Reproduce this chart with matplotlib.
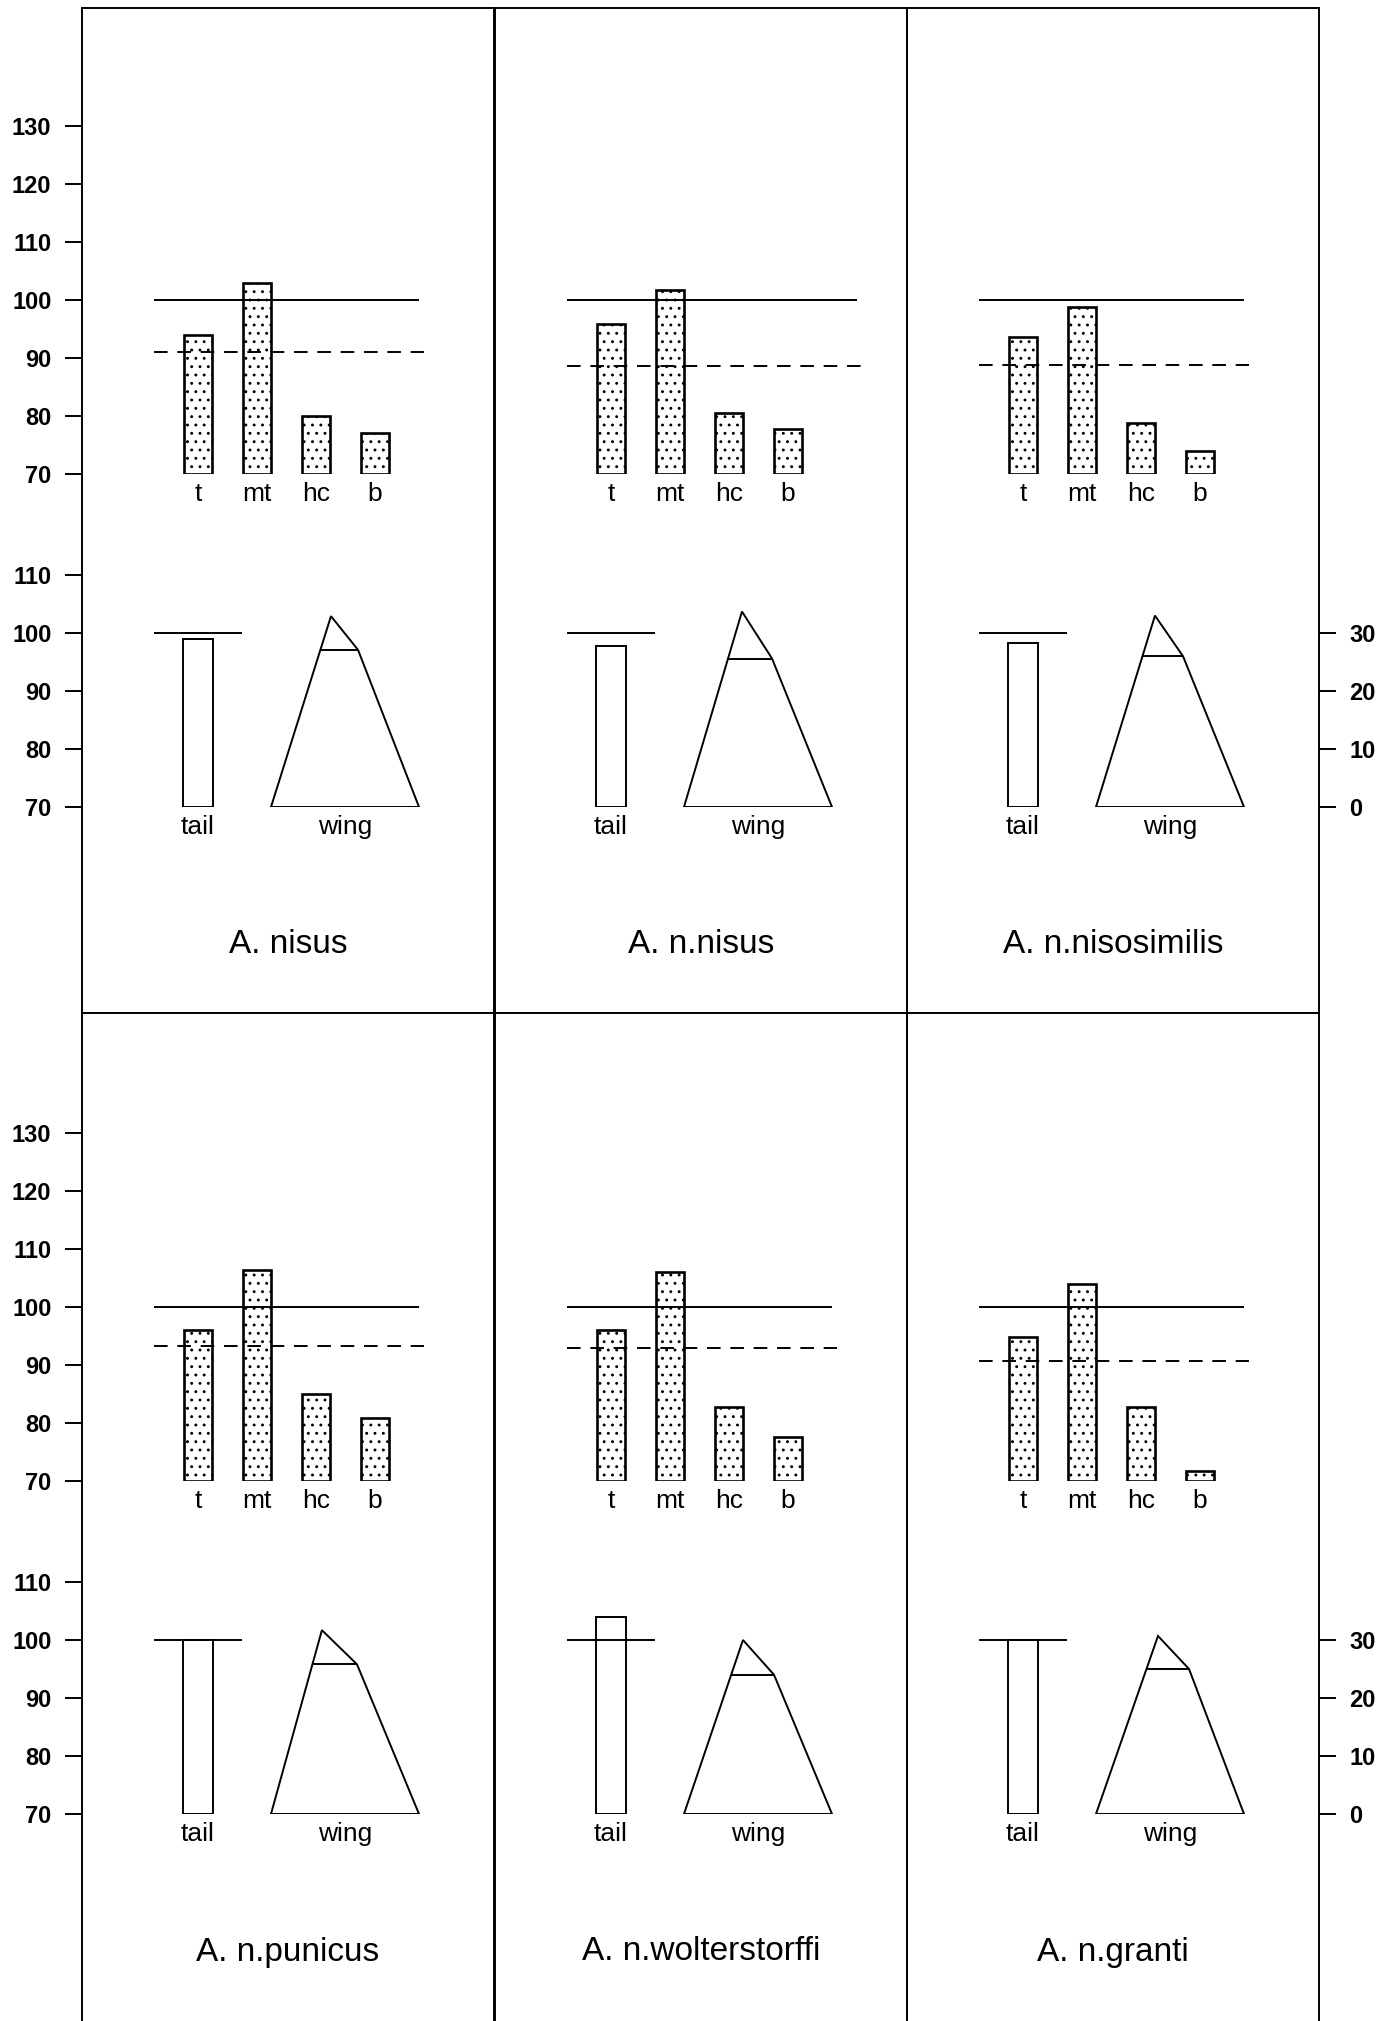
import numpy as np
import matplotlib
matplotlib.use("Agg")
import matplotlib.pyplot as plt
from matplotlib.patches import Polygon

plt.rcParams['font.family'] = ['Liberation Sans', 'DejaVu Sans']
plt.rcParams['hatch.linewidth'] = 0.9

# ---- data ----
species = ["A. nisus", "A. n.nisus", "A. n.nisosimilis",
           "A. n.punicus", "A. n.wolterstorffi", "A. n.granti"]
measures = ["t", "mt", "hc", "b"]
t_vals = [94.0, 95.9, 93.7, 96.1, 96.0, 94.9]
mt_vals = [103.0, 101.7, 98.8, 106.3, 106.0, 104.0]
hc_vals = [80.0, 80.6, 78.8, 85.0, 82.8, 82.8]
b_vals = [77.0, 77.7, 73.9, 80.9, 77.6, 71.7]
mean_level = [91.0, 88.7, 88.8, 93.2, 93.0, 90.7]   # dashed line
ref_level = 100
tail_vals = [99.0, 97.8, 98.2, 100.0, 104.0, 100.0]
wing_tip = [32.9, 33.7, 33.0, 31.7, 30.0, 30.7]     # right scale
wing_kink = [27.1, 25.6, 26.0, 25.8, 24.0, 25.0]    # right scale

upper_ticks = [70, 80, 90, 100, 110, 120, 130]
lower_ticks = [70, 80, 90, 100, 110]
right_ticks = [0, 10, 20, 30]

# ---- layout (pixels) ----
W, H = 1391, 2021
col_left = [82, 495, 907]
panel_w = 412
row_shift = 1007
frame_top = [8, 1013]
frame_h = [1005, 1060]
UNIT = 5.8            # px per value unit
upper_base = 474      # y of value 70 in upper plots, row 0
lower_base = 807
title_y = 945
xlim = (-116 / 59, (panel_w - 116) / 59)
ref_end = [3.75, 4.17, 3.75, 3.75, 3.75, 3.75]
tip_x = [2.254, 2.22, 2.237, 2.10, 2.237, 2.288]
kink_x = [2.712, 2.729, 2.712, 2.695, 2.763, 2.814]
wing_left, wing_right = 1.237, 3.746


def px_box(left, top, width, height):
    return [left / W, 1 - (top + height) / H, width / W, height / H]


def bold_ticks(a, side):
    a.tick_params(axis='y', direction='out', length=12, width=1.4,
                  pad=10, labelsize=17)
    for lab in a.get_yticklabels():
        lab.set_fontweight('bold')


fig = plt.figure(figsize=(W / 100, H / 100), dpi=100)

for i, name in enumerate(species):
    r, c = divmod(i, 3)
    cl = col_left[c]

    # panel frame
    fr = fig.add_axes(px_box(cl, frame_top[r], panel_w, frame_h[r]))
    fr.set_xticks([])
    fr.set_yticks([])
    for s in fr.spines.values():
        s.set_linewidth(1.4)
    if r == 1:
        fr.spines['bottom'].set_visible(False)

    # upper bar plot
    top = upper_base + r * row_shift - 60 * UNIT
    ax = fig.add_axes(px_box(cl, top, panel_w, 60 * UNIT))
    ax.patch.set_alpha(0)
    vals = [t_vals[i], mt_vals[i], hc_vals[i], b_vals[i]]
    x = np.arange(len(measures))
    ax.bar(x, np.array(vals) - 70, bottom=70, width=0.475,
           facecolor='white', edgecolor='black', linewidth=1.9, hatch='..')
    ax.hlines(ref_level, -0.74, ref_end[i], color='black', lw=1.4)
    ax.hlines(mean_level[i], -0.74, ref_end[i] + 0.08, color='black', lw=1.4,
              linestyle=(0, (7, 5)))
    ax.set_xlim(*xlim)
    ax.set_ylim(70, 130)
    ax.set_xticks(x, measures, fontsize=19)
    ax.tick_params(axis='x', length=0, pad=6)
    for s in ax.spines.values():
        s.set_visible(False)
    if c == 0:
        ax.set_yticks(upper_ticks)
        bold_ticks(ax, 'left')
    else:
        ax.set_yticks([])

    # lower tail / wing plot
    top = lower_base + r * row_shift - 40 * UNIT
    axl = fig.add_axes(px_box(cl, top, panel_w, 40 * UNIT))
    axl.patch.set_alpha(0)
    axl.bar([0], [tail_vals[i] - 70], bottom=70, width=0.5,
            facecolor='white', edgecolor='black', linewidth=1.4)
    axl.hlines(ref_level, -0.74, 0.75, color='black', lw=1.4)
    axl.set_xlim(*xlim)
    axl.set_ylim(70, 110)
    axl.set_xticks([0, (wing_left + wing_right) / 2], ["tail", "wing"],
                   fontsize=19)
    axl.tick_params(axis='x', length=0, pad=6)
    for s in axl.spines.values():
        s.set_visible(False)
    if c == 0:
        axl.set_yticks(lower_ticks)
        bold_ticks(axl, 'left')
    else:
        axl.set_yticks([])

    # wing shape on the right-hand 0-30 scale
    axw = axl.twinx()
    axw.set_ylim(0, 40)
    for s in axw.spines.values():
        s.set_visible(False)
    wing = Polygon([(wing_left, 0), (tip_x[i], wing_tip[i]),
                    (kink_x[i], wing_kink[i]), (wing_right, 0)],
                   closed=True, facecolor='white', edgecolor='black',
                   linewidth=1.4)
    axw.add_patch(wing)
    frac = wing_kink[i] / wing_tip[i]
    left_k = wing_left + (tip_x[i] - wing_left) * frac
    axw.hlines(wing_kink[i], left_k, kink_x[i], color='black', lw=1.4)
    if c == 2:
        axw.set_yticks(right_ticks)
        bold_ticks(axw, 'right')
    else:
        axw.set_yticks([])

    fig.text((cl + panel_w / 2) / W, 1 - (title_y + r * row_shift) / H,
             name, ha='center', va='center', fontsize=24)

fig.savefig("out.png", dpi=100, facecolor='white')
